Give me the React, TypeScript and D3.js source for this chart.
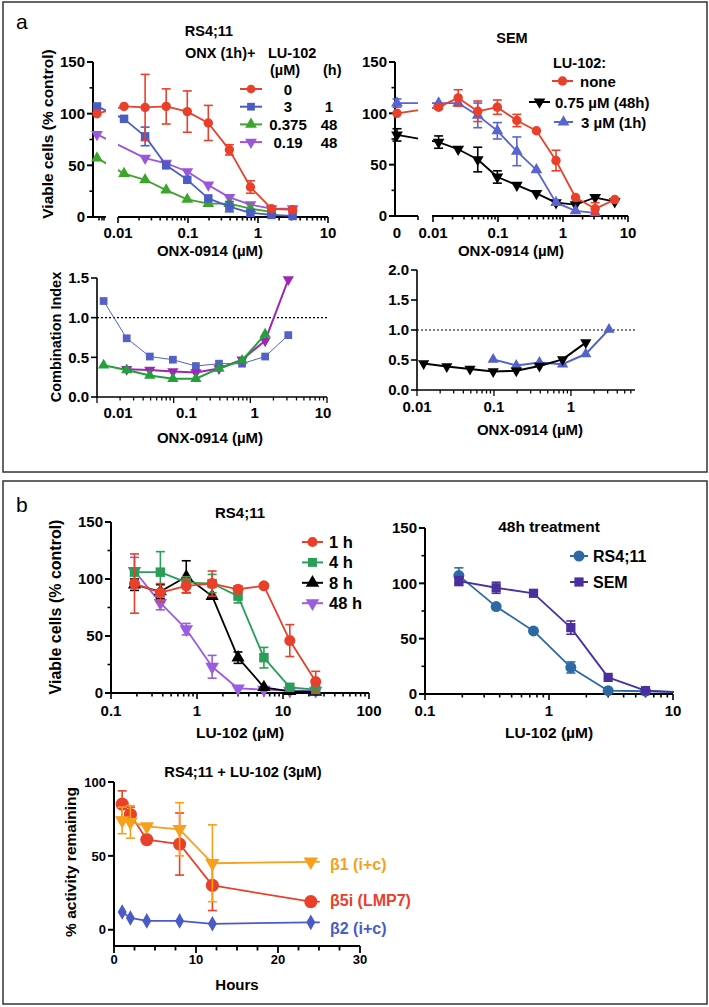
import React, { useEffect, useRef } from "react";
import * as d3 from "d3";

// ---------- panel a: ONX-0914 doses (µM); index 0 of each series = no ONX ----------
const onxDoses = [0.0122, 0.0244, 0.0488, 0.0977, 0.195, 0.39, 0.78, 1.56, 3.125];
const semDoses = [0.0122, 0.0244, 0.0488, 0.0977, 0.195, 0.39, 0.78, 1.56, 3.125, 6.25];
const doseTicks = [0.01, 0.1, 1, 10];

const rsLuNone = [100, 107, 106, 107, 102, 91, 65, 29, 8, 7];
const rsLuNoneErr = [0, 0, 32, 17, 20, 17, 5, 6, 2, 2];
const rsLu3 = [107, 95, 78, 50, 36, 18, 10, 4, 2, 1];
const rsLu3Err = [0, 0, 9, 0, 0, 0, 5, 0, 0, 0];
const rsLu0375 = [57, 42, 36, 26, 17, 13, 13, 8, 5, null];
const rsLu019 = [80, null, 57, 52, 44, 31, 19, 12, 8, 8];

const semNone = [100, 106, 115, 102, 106, 93, 83, 54, 18, 7, 16];
const semNoneErr = [0, 2, 8, 10, 7, 6, 0, 10, 0, 6, 0];
const semLu075 = [79, 72, 65, 55, 38, 30, 22, 13, 11, 18, 14];
const semLu075Err = [6, 6, 0, 12, 6, 0, 0, 0, 0, 0, 0];
const semLu3 = [110, 110, 110, 98, 83, 63, 45, 13, 5, 3, null];
const semLu3Err = [4, 0, 0, 12, 8, 14, 0, 0, 0, 0, 0];

// combination index vs ONX dose
const ciRsLu3 = [1.21, 0.74, 0.51, 0.47, 0.39, 0.42, 0.42, 0.51, 0.78];
const ciRsLu0375 = [0.4, 0.34, 0.27, 0.23, 0.23, 0.36, 0.46, 0.79, null];
const ciRsLu019 = [null, 0.35, 0.34, 0.32, 0.31, 0.36, 0.47, 0.71, 1.48];
const ciSemLu075 = [0.44, 0.39, 0.35, 0.31, 0.32, 0.4, 0.51, 0.79, null];
const ciSemLu3 = [null, null, null, 0.51, 0.41, 0.46, 0.43, 0.6, 1.01];

// ---------- panel b ----------
const luDoses = [0.1875, 0.375, 0.75, 1.5, 3, 6, 12, 24];
const rs1h = [96, 88, 94, 96, 91, 94, 46, 10];
const rs1hErr = [26, 8, 6, 11, 3, 0, 14, 9];
const rs4h = [106, 106, 97, 96, 85, 31, 5, 3];
const rs4hErr = [0, 18, 5, 8, 6, 9, 0, 0];
const rs8h = [95, 89, 102, 85, 31, 5, 1.5, 1];
const rs8hErr = [5, 6, 14, 0, 5, 0, 0, 0];
const rs48h = [107, 79, 56, 23, 4, 3, 2, 2];
const rs48hErr = [12, 6, 5, 10, 0, 0, 0, 0];

const d48Doses = [0.1875, 0.375, 0.75, 1.5, 3, 6, 12];
const d48Rs = [107, 79, 57, 24, 3, 2.5, 1.5];
const d48RsErr = [7, 0, 0, 5, 0, 0, 0];
const d48Sem = [102, 96, 91, 60, 15, 3, 1.5];
const d48SemErr = [4, 5, 0, 6, 0, 0, 0];

const hours = [1, 2, 4, 8, 12, 24];
const b5i = [85, 78, 61, 58, 30, 19];
const b5iErr = [9, 5, 0, 21, 17, 0];
const b1 = [74, 73, 70, 68, 45, 46];
const b1Err = [9, 11, 0, 18, 26, 0];
const b2 = [12, 8, 6, 6, 4, 5];

const FONT = "'Liberation Sans', Arial, Helvetica, sans-serif";
const RED = "#e8402a";
const BLUE = "#4b5cc4";
const GREEN = "#3da52c";
const PURPLE = "#9a57da";

function text(g, x, y, s, size, anchor = "middle", fill = "#000", weight = "bold") {
  return g.append("text").attr("x", x).attr("y", y)
    .attr("font-family", FONT).attr("font-size", size).attr("font-weight", weight)
    .attr("text-anchor", anchor).attr("fill", fill).text(s);
}

function vtext(g, cx, cy, s, size) {
  g.append("text")
    .attr("transform", `translate(${cx + size * 0.36},${cy}) rotate(-90)`)
    .attr("font-family", FONT).attr("font-size", size).attr("font-weight", "bold")
    .attr("text-anchor", "middle").text(s);
}

function ln(g, x1, y1, x2, y2, w = 2, color = "#000", dash = null) {
  const l = g.append("line").attr("x1", x1).attr("y1", y1).attr("x2", x2).attr("y2", y2)
    .attr("stroke", color).attr("stroke-width", w);
  if (dash) l.attr("stroke-dasharray", dash);
  return l;
}

function yAxis(g, y, x0, majors, minors, fmt, fs, w = 2) {
  const [b, t] = y.range();
  ln(g, x0, b + w / 2, x0, t, w);
  majors.forEach((v) => {
    ln(g, x0 - 6, y(v), x0, y(v), w);
    text(g, x0 - 8, y(v) + fs * 0.36, fmt(v), fs, "end");
  });
  minors.forEach((v) => ln(g, x0 - 3.5, y(v), x0, y(v), w * 0.8));
}

// log axis: ticks from the data scale, labels from labelScale (defaults to the same)
function logAxis(g, x, y0, xa, xb, labels, ly, fs, w = 2, labelScale = null) {
  ln(g, xa, y0, xb, y0, w);
  const [d0, d1] = x.domain();
  for (let e = Math.floor(Math.log10(d0)); e <= Math.ceil(Math.log10(d1)); e++) {
    for (let k = 1; k < 10; k++) {
      const v = k * Math.pow(10, e);
      const p = x(v);
      if (p < xa - 0.5 || p > xb + 0.5) continue;
      ln(g, p, y0, p, y0 + (k === 1 ? 6 : 3.5), w * 0.8);
    }
  }
  const ls = labelScale || x;
  labels.forEach((v) => text(g, ls(v), ly, String(v), fs));
}

function marker(g, x, y, color, shape, size) {
  const types = {
    circle: d3.symbolCircle, square: d3.symbolSquare, up: d3.symbolTriangle,
    down: d3.symbolTriangle, diamond: d3.symbolDiamond,
  };
  g.append("path").attr("d", d3.symbol().type(types[shape]).size(size)())
    .attr("transform", `translate(${x},${y})${shape === "down" ? " rotate(180)" : ""}`)
    .attr("fill", color);
}

function pts(xpos, y, vals, errs = null) {
  const out = [];
  vals.forEach((v, i) => {
    if (v == null) return;
    const e = errs ? errs[i] : 0;
    out.push({ x: xpos(i), y: y(v), lo: y(v - e), hi: y(v + e), e });
  });
  return out;
}

function series(g0, p, color, shape, size, lw, clip = null, clipAll = false) {
  const g = g0.append("g");
  if (clip && clipAll) g.attr("clip-path", `url(#${clip})`);
  const path = g.append("path")
    .attr("d", d3.line().x((d) => d.x).y((d) => d.y)(p))
    .attr("fill", "none").attr("stroke", color).attr("stroke-width", lw)
    .attr("stroke-linejoin", "round");
  if (clip && !clipAll) path.attr("clip-path", `url(#${clip})`);
  p.forEach((d) => {
    if (d.e > 0) {
      ln(g, d.x, d.lo, d.x, d.hi, 1.6, color);
      ln(g, d.x - 4.5, d.hi, d.x + 4.5, d.hi, 1.6, color);
      ln(g, d.x - 4.5, d.lo, d.x + 4.5, d.lo, 1.6, color);
    }
  });
  p.forEach((d) => marker(g, d.x, d.y, color, shape, size));
  return p;
}

function legendKey(g, xa, xb, y, color, shape, size, lw = 2) {
  ln(g, xa, y, xb, y, lw, color);
  marker(g, (xa + xb) / 2, y, color, shape, size);
}

function clipGap(defs, id, a, b) {
  const c = defs.append("clipPath").attr("id", id);
  c.append("rect").attr("x", 0).attr("y", 0).attr("width", a).attr("height", 1007);
  c.append("rect").attr("x", b).attr("y", 0).attr("width", 709 - b).attr("height", 1007);
}

function draw(svg) {
  const defs = svg.append("defs");
  svg.append("rect").attr("width", 709).attr("height", 1007).attr("fill", "#fff");
  svg.append("rect").attr("x", 3).attr("y", 2).attr("width", 704).attr("height", 470)
    .attr("fill", "none").attr("stroke", "#333").attr("stroke-width", 1.5);
  svg.append("rect").attr("x", 3).attr("y", 481).attr("width", 704).attr("height", 523)
    .attr("fill", "none").attr("stroke", "#333").attr("stroke-width", 1.5);
  text(svg, 16, 29, "a", 21, "start", "#000", "normal");
  text(svg, 16, 512, "b", 21, "start", "#000", "normal");

  // ===== a, RS4;11 viability =====
  {
    const g = svg.append("g");
    const y = d3.scaleLinear().domain([0, 150]).range([217, 62]);
    const x = d3.scaleLog().domain([0.01, 10]).range([118, 328]);
    const zeroX = 97;
    clipGap(defs, "gapA", 106, 118);
    yAxis(g, y, 93, [0, 50, 100, 150], [25, 75, 125], String, 15);
    ln(g, 92, 217, 106, 217, 2);
    [99, 102, 104].forEach((p) => ln(g, p, 217, p, 220.5, 1.6));
    logAxis(g, x, 217, 118, 328, doseTicks, 238, 15);
    const xp = (i) => (i === 0 ? zeroX : x(onxDoses[i - 1]));
    series(g, pts(xp, y, rsLu019), PURPLE, "down", 60, 1.8, "gapA");
    series(g, pts(xp, y, rsLu0375), GREEN, "up", 60, 1.8, "gapA");
    series(g, pts(xp, y, rsLu3, rsLu3Err), BLUE, "square", 72, 1.8, "gapA");
    series(g, pts(xp, y, rsLuNone, rsLuNoneErr), RED, "circle", 70, 1.8, "gapA");
    vtext(g, 47, 134, "Viable cells (% control)", 15.5);
    text(g, 210, 256, "ONX-0914 (µM)", 15);
    text(g, 209, 36, "RS4;11", 14.5);
    text(g, 185, 58, "ONX (1h)+", 14.5, "start");
    text(g, 268, 58, "LU-102", 14.5, "start");
    text(g, 270, 75, "(µM)", 14.5, "start");
    text(g, 323, 75, "(h)", 14.5, "start");
    const rows = [
      [RED, "circle", "0", ""], [BLUE, "square", "3", "1"],
      [GREEN, "up", "0.375", "48"], [PURPLE, "down", "0.19", "48"],
    ];
    rows.forEach((r, i) => {
      const ry = 89 + i * 17.7;
      legendKey(g, 240, 262, ry, r[0], r[1], 60);
      text(g, 288, ry + 5.5, r[2], 15);
      text(g, 329, ry + 5.5, r[3], 15);
    });
  }

  // ===== a, SEM viability =====
  {
    const g = svg.append("g");
    const y = d3.scaleLinear().domain([0, 150]).range([216, 62]);
    const x = d3.scaleLog().domain([0.01, 10]).range([433, 628]);
    const zeroX = 397;
    clipGap(defs, "gapS", 418, 432);
    yAxis(g, y, 395, [0, 50, 100, 150], [25, 75, 125], String, 15);
    ln(g, 394, 216, 418, 216, 2);
    ln(g, 418, 216, 418, 220, 1.6);
    logAxis(g, x, 216, 432, 628, doseTicks, 238, 15);
    text(g, zeroX, 238, "0", 15);
    const xp = (i) => (i === 0 ? zeroX : x(semDoses[i - 1]));
    series(g, pts(xp, y, semLu075, semLu075Err), "#000", "down", 60, 1.8, "gapS");
    series(g, pts(xp, y, semLu3, semLu3Err), "#5a64d0", "up", 60, 1.8, "gapS");
    series(g, pts(xp, y, semNone, semNoneErr), RED, "circle", 70, 1.8, "gapS");
    text(g, 511, 256, "ONX-0914 (µM)", 15);
    text(g, 512, 43, "SEM", 14.5);
    text(g, 553, 68, "LU-102:", 14.5, "start");
    legendKey(g, 552, 573, 81, RED, "circle", 70);
    text(g, 580, 86.5, "none", 15, "start");
    legendKey(g, 529, 550, 102, "#000", "down", 60);
    text(g, 555, 107.5, "0.75 µM (48h)", 15, "start");
    legendKey(g, 554, 573, 122, "#5a64d0", "up", 60);
    text(g, 581, 127.5, "3 µM (1h)", 15, "start");
  }

  // ===== a, RS4;11 combination index =====
  {
    const g = svg.append("g");
    const y = d3.scaleLinear().domain([0, 1.5]).range([397, 278]);
    const x = d3.scaleLog().domain([0.01, 10]).range([97, 327]);
    const xl = d3.scaleLog().domain([0.01, 10]).range([118, 323]);
    ln(g, 97, y(1), 327, y(1), 1.2, "#000", "2,2");
    yAxis(g, y, 97, [0, 0.5, 1, 1.5], [], d3.format(".1f"), 15, 1.6);
    logAxis(g, x, 397, 97, 327, doseTicks, 418, 15, 1.6, xl);
    const xp = (i) => x(onxDoses[i]);
    series(g, pts(xp, y, ciRsLu3), "#5362c4", "square", 60, 1);
    series(g, pts(xp, y, ciRsLu019), "#9c28b4", "down", 55, 2);
    series(g, pts(xp, y, ciRsLu0375), "#22a03a", "up", 55, 2);
    vtext(g, 56, 337, "Combination Index", 14.5);
    text(g, 210, 443, "ONX-0914 (µM)", 15);
  }

  // ===== a, SEM combination index =====
  {
    const g = svg.append("g");
    const y = d3.scaleLinear().domain([0, 2]).range([390, 270]);
    const x = d3.scaleLog().domain([0.01, 6.8]).range([417, 635]);
    ln(g, 417, y(1), 635, y(1), 1.2, "#000", "2,2");
    yAxis(g, y, 417, [0, 0.5, 1, 1.5, 2], [], d3.format(".1f"), 15, 1.6);
    logAxis(g, x, 390, 417, 635, [0.01, 0.1, 1], 412, 15, 1.6);
    const xp = (i) => x(onxDoses[i]);
    series(g, pts(xp, y, ciSemLu3), "#5362c8", "up", 55, 2);
    series(g, pts(xp, y, ciSemLu075), "#000", "down", 55, 2);
    text(g, 530, 435, "ONX-0914 (µM)", 15);
  }

  // ===== b, RS4;11 time course =====
  {
    const g = svg.append("g");
    const y = d3.scaleLinear().domain([0, 150]).range([693, 522]);
    const x = d3.scaleLog().domain([0.1, 100]).range([111, 369]);
    yAxis(g, y, 111, [0, 50, 100, 150], [25, 75, 125], String, 15);
    logAxis(g, x, 693, 111, 369, [0.1, 1, 10, 100], 716, 15);
    const xp = (i) => x(luDoses[i]);
    const GRN = "#2a9e58";
    series(g, pts(xp, y, rs48h, rs48hErr), "#9a5ce0", "down", 80, 1.8);
    series(g, pts(xp, y, rs8h, rs8hErr), "#000", "up", 75, 1.8);
    series(g, pts(xp, y, rs4h, rs4hErr), GRN, "square", 90, 1.8);
    series(g, pts(xp, y, rs1h, rs1hErr), RED, "circle", 95, 1.8);
    vtext(g, 55, 607, "Viable cells (% control)", 16);
    text(g, 240, 738, "LU-102 (µM)", 15.5);
    text(g, 240, 518, "RS4;11", 15);
    const rows = [[RED, "circle", "1 h"], [GRN, "square", "4 h"], ["#000", "up", "8 h"], ["#9a5ce0", "down", "48 h"]];
    rows.forEach((r, i) => {
      const ry = 542 + i * 20.4;
      legendKey(g, 302, 323, ry, r[0], r[1], 80);
      text(g, 329, ry + 6, r[2], 16.5, "start");
    });
  }

  // ===== b, 48h treatment =====
  {
    const g = svg.append("g");
    const y = d3.scaleLinear().domain([0, 150]).range([694, 528]);
    const x = d3.scaleLog().domain([0.1, 10]).range([425, 673]);
    const c = defs.append("clipPath").attr("id", "clipB2");
    c.append("rect").attr("x", 425).attr("y", 500).attr("width", 249).attr("height", 200);
    yAxis(g, y, 425, [0, 50, 100, 150], [25, 75, 125], String, 15);
    logAxis(g, x, 694, 425, 673, [0.1, 1, 10], 716, 15);
    const xp = (i) => x(d48Doses[i]);
    const RSB = "#2d6aa3";
    const SMB = "#4a2f9e";
    series(g, pts(xp, y, d48Rs, d48RsErr), RSB, "circle", 95, 1.8, "clipB2", true);
    series(g, pts(xp, y, d48Sem, d48SemErr), SMB, "square", 85, 1.8, "clipB2", true);
    text(g, 549, 738, "LU-102 (µM)", 15.5);
    text(g, 549, 532, "48h treatment", 15.5);
    legendKey(g, 570, 588, 556, RSB, "circle", 95);
    text(g, 593, 562, "RS4;11", 16, "start");
    legendKey(g, 570, 588, 582, SMB, "square", 85);
    text(g, 593, 588, "SEM", 16, "start");
  }

  // ===== b, proteasome activity =====
  {
    const g = svg.append("g");
    const y = d3.scaleLinear().domain([-11, 100]).range([946, 782]);
    const x = d3.scaleLinear().domain([0, 30]).range([114, 360]);
    ln(g, 114, 946, 114, 782, 2);
    [0, 50, 100].forEach((v) => {
      ln(g, 108, y(v), 114, y(v), 2);
      text(g, 106, y(v) + 4.7, String(v), 13, "end");
    });
    ln(g, 113, 946, 360, 946, 2);
    d3.range(0, 30.1, 2.5).forEach((v) => {
      const major = v % 10 === 0;
      ln(g, x(v), 946, x(v), 946 + (major ? 7 : 4.5), 1.8);
    });
    [0, 10, 20, 30].forEach((v) => text(g, x(v), 964, String(v), 13));
    const xp = (i) => x(hours[i]);
    const ORG = "#f5a11c";
    const BL2 = "#4a5bc8";
    const lead = (p, color) => {
      const last = p[p.length - 1];
      ln(g, last.x, last.y, last.x + 9, last.y, 1.8, color);
    };
    lead(series(g, pts(xp, y, b2), BL2, "diamond", 70, 1.8), BL2);
    lead(series(g, pts(xp, y, b5i, b5iErr), RED, "circle", 135, 1.8), RED);
    lead(series(g, pts(xp, y, b1, b1Err), ORG, "down", 90, 1.8), ORG);
    text(g, 330, 870, "β1 (i+c)", 16, "start", ORG);
    text(g, 330, 906, "β5i (LMP7)", 16, "start", RED);
    text(g, 330, 934, "β2 (i+c)", 16, "start", BL2);
    text(g, 243, 777, "RS4;11 + LU-102 (3µM)", 14.7);
    vtext(g, 70, 862, "% activity remaining", 15.5);
    text(g, 237, 990, "Hours", 15);
  }
}

export default function App() {
  const ref = useRef(null);
  useEffect(() => {
    const svg = d3.select(ref.current);
    svg.selectAll("*").remove();
    draw(svg);
  }, []);
  return (
    <svg
      ref={ref}
      width={709}
      height={1007}
      style={{ position: "absolute", left: 0, top: 0 }}
    />
  );
}
